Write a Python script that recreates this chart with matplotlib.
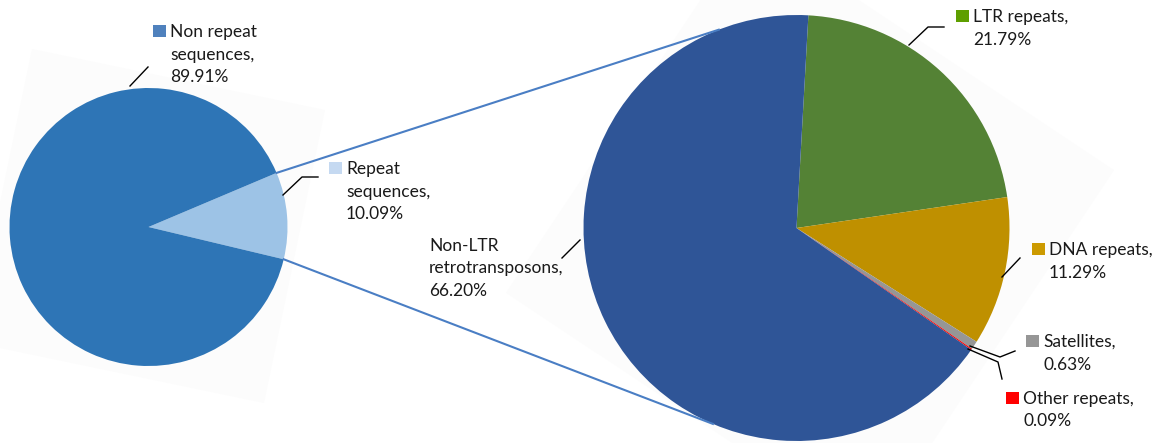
import numpy as np
import matplotlib
matplotlib.use("Agg")
import matplotlib.pyplot as plt
from matplotlib.patches import Rectangle, Polygon

# ---- data ----
left_labels = ["Repeat\nsequences,", "Non repeat\nsequences,"]
left_values = [10.09, 89.91]
left_colors = ["#9DC3E6", "#2E75B6"]
left_key_colors = ["#C5D9F1", "#4F81BD"]

right_labels = ["LTR repeats,", "DNA repeats,", "Satellites,", "Other repeats,",
                "Non-LTR\nretrotransposons,"]
right_values = [21.79, 11.29, 0.63, 0.09, 66.20]
right_colors = ["#548235", "#BF9000", "#969696", "#FF0000", "#2F5597"]
right_key_colors = ["#5E9F00", "#CC9A00", "#969696", "#FF0000", None]

W, H = 1161, 443
fig = plt.figure(figsize=(W / 100, H / 100), dpi=100)
ax = fig.add_axes([0, 0, 1, 1])
ax.set_xlim(0, W)
ax.set_ylim(0, H)
ax.axis("off")


def Y(y):
    return H - y


FONT = dict(family=["Lato", "DejaVu Sans"], fontsize=12.5, color="#1a1a1a",
            linespacing=1.5)

# faint rotated backgrounds
ax.add_patch(Polygon([(32, Y(49)), (325, Y(110)), (264, Y(403)), (-29, Y(342))],
                     closed=True, facecolor="#fcfcfc", edgecolor="none", zorder=0))
ax.add_patch(Polygon([(749, Y(-73)), (1114, Y(170)), (871, Y(535)), (506, Y(293))],
                     closed=True, facecolor="#fcfcfc", edgecolor="none", zorder=0))

# ---- pies ----
lc = (148.5, Y(227))
lr = 139
l_start = 22.9
ax.pie(left_values, colors=left_colors, startangle=l_start, counterclock=False,
       center=lc, radius=lr, frame=True, wedgeprops=dict(linewidth=0))

rc = (796.5, Y(228))
rr = 213
r_start = 86.8
ax.pie(right_values, colors=right_colors, startangle=r_start, counterclock=False,
       center=rc, radius=rr, frame=True, wedgeprops=dict(linewidth=0))

ax.set_xlim(0, W)
ax.set_ylim(0, H)
ax.set_aspect("equal")
ax.axis("off")

# ---- connector lines from repeat wedge to the right pie ----
rep_a1 = np.deg2rad(l_start)
rep_a2 = np.deg2rad(l_start - left_values[0] * 3.6)
p1 = (lc[0] + lr * np.cos(rep_a1), lc[1] + lr * np.sin(rep_a1))
p2 = (lc[0] + lr * np.cos(rep_a2), lc[1] + lr * np.sin(rep_a2))
q1a, q2a = np.deg2rad(111.4), np.deg2rad(246.9)
q1 = (rc[0] + rr * np.cos(q1a), rc[1] + rr * np.sin(q1a))
q2 = (rc[0] + rr * np.cos(q2a), rc[1] + rr * np.sin(q2a))
ax.plot([p1[0], q1[0]], [p1[1], q1[1]], color="#4A7EC4", lw=1.5, zorder=5)
ax.plot([p2[0], q2[0]], [p2[1], q2[1]], color="#4A7EC4", lw=1.5, zorder=5)


# ---- labels ----
def label(x, y, text, key_color=None):
    ax.text(x, Y(y + 2), text, ha="left", va="top", zorder=6, **FONT)
    if key_color:
        ax.add_patch(Rectangle((x - 17, Y(y + 15)), 12.5, 12.5,
                               facecolor=key_color, edgecolor="none", zorder=6))


def leader(pts):
    xs = [p[0] for p in pts]
    ys = [Y(p[1]) for p in pts]
    ax.plot(xs, ys, color="black", lw=1, zorder=6)


label(170, 22, left_labels[1] + "\n%.2f%%" % left_values[1], left_key_colors[1])
leader([(130, 86), (148, 67)])
label(346, 159, left_labels[0] + "\n%.2f%%" % left_values[0], left_key_colors[0])
leader([(283, 195), (302, 177), (318, 177)])

label(973, 7, right_labels[0] + "\n%.2f%%" % right_values[0], right_key_colors[0])
leader([(909, 45), (928, 27), (944, 27)])
label(1049, 240, right_labels[1] + "\n%.2f%%" % right_values[1], right_key_colors[1])
leader([(1002, 277), (1020, 258)])
label(1043, 332, right_labels[2] + "\n%.2f%%" % right_values[2], right_key_colors[2])
leader([(970, 346), (1000, 357), (1015, 351)])
label(1023, 389, right_labels[3] + "\n%.2f%%" % right_values[3], right_key_colors[3])
leader([(968, 349), (998, 362), (1002, 379)])
label(429, 236, right_labels[4] + "\n%.2f%%" % right_values[4])
leader([(562, 258), (580, 240)])

fig.savefig("out.png", dpi=100)
